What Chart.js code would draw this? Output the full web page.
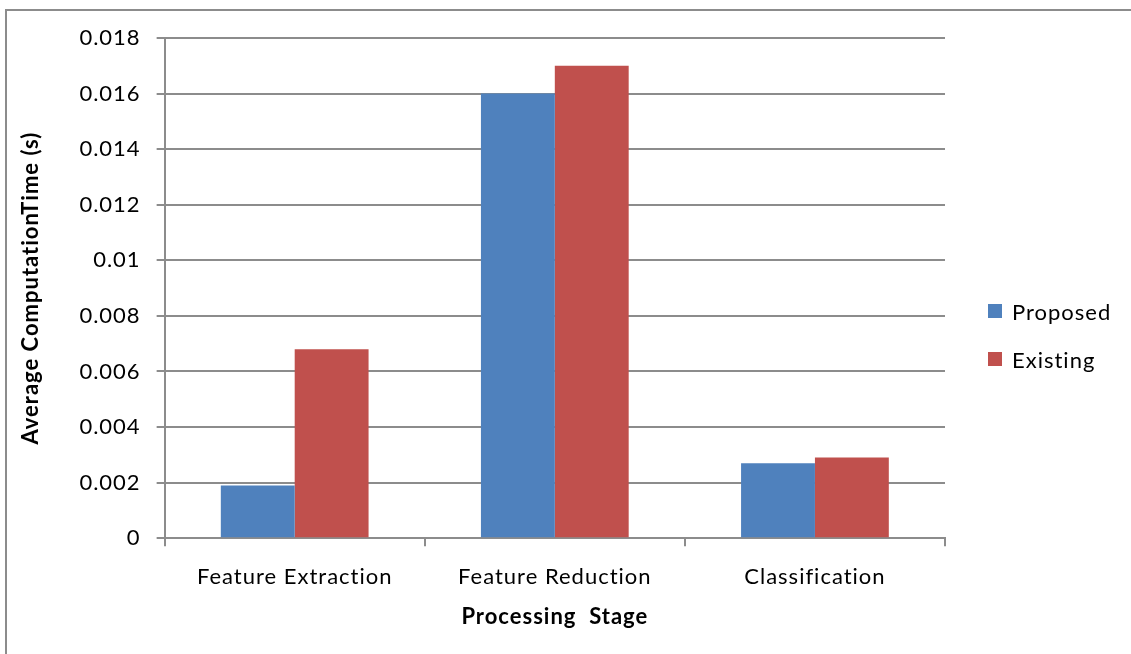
<!DOCTYPE html>
<html>
<head>
<meta charset="utf-8">
<script src="https://cdn.jsdelivr.net/npm/chart.js@4.4.1/dist/chart.umd.min.js"></script>
<style>
  html, body { margin: 0; padding: 0; background: #fff; }
  #wrap { position: relative; width: 1131px; height: 654px; }
  #frame { position: absolute; left: 5px; top: 9px; right: -4px; bottom: -4px;
           border-left: 2px solid #8c8c8c; border-top: 2px solid #8c8c8c; }
  canvas { position: absolute; left: 0; top: 0; }
</style>
</head>
<body>
<div id="wrap">
  <div id="frame"></div>
  <canvas id="chart" width="1131" height="654"></canvas>
</div>
<script>
// Processing stages and average computation time (seconds) per method
const stages = ['Feature Extraction', 'Feature Reduction', 'Classification'];
const proposed = [0.0019, 0.016, 0.0027];
const existing = [0.0068, 0.017, 0.0029];
const seriesNames = ['Proposed', 'Existing'];
const seriesColors = ['#4F81BD', '#C0504D'];

const FONT = 'Lato, "Open Sans", sans-serif';
const SIZE = 22;
const GRID = '#8c8c8c';

// Slightly open letter spacing for all chart text
const spacing = {
  id: 'spacing',
  beforeLayout(chart) { chart.ctx.letterSpacing = '1px'; },
  beforeDraw(chart) { chart.ctx.letterSpacing = '1px'; }
};

// Simple right-hand legend: colour square followed by the series name
const sideLegend = {
  id: 'sideLegend',
  afterDraw(chart) {
    const ctx = chart.ctx;
    ctx.save();
    ctx.font = SIZE + 'px ' + FONT;
    ctx.textBaseline = 'middle';
    ctx.textAlign = 'left';
    chart.data.datasets.forEach((ds, i) => {
      const y = 311 + i * 48;
      ctx.fillStyle = ds.backgroundColor;
      ctx.fillRect(988, y - 7, 14, 14);
      ctx.fillStyle = '#000';
      ctx.fillText(ds.label, 1012, y + 2);
    });
    ctx.restore();
  }
};

new Chart(document.getElementById('chart'), {
  type: 'bar',
  data: {
    labels: stages,
    datasets: [
      { label: seriesNames[0], data: proposed, backgroundColor: seriesColors[0] },
      { label: seriesNames[1], data: existing, backgroundColor: seriesColors[1] }
    ]
  },
  options: {
    responsive: false,
    animation: false,
    devicePixelRatio: 1,
    layout: { padding: { left: 18, top: 38, right: 186, bottom: 24 } },
    datasets: { bar: { categoryPercentage: 0.568, barPercentage: 1.0 } },
    plugins: {
      legend: { display: false },
      tooltip: { enabled: false }
    },
    scales: {
      x: {
        offset: true,
        grid: { offset: true, drawOnChartArea: false, drawTicks: true, tickLength: 8,
                color: GRID, lineWidth: 2 },
        border: { color: GRID, width: 2 },
        ticks: { color: '#000', font: { family: FONT, size: SIZE }, padding: 18 },
        title: { display: true, text: 'Processing  Stage', color: '#000',
                 font: { family: FONT, size: SIZE, weight: 'bold' },
                 padding: { top: -5, bottom: 0 } }
      },
      y: {
        min: 0,
        max: 0.018,
        grid: { color: GRID, lineWidth: 2, tickLength: 8 },
        border: { color: GRID, width: 2 },
        ticks: {
          stepSize: 0.002,
          color: '#000',
          padding: 16,
          font: { family: FONT, size: SIZE },
          callback: v => String(Number(v.toFixed(3)))
        },
        title: { display: true, text: 'Average ComputationTime (s)', color: '#000',
                 font: { family: FONT, size: SIZE, weight: 'bold' },
                 padding: { top: 0, bottom: 19 } }
      }
    }
  },
  plugins: [spacing, sideLegend]
});
</script>
</body>
</html>
